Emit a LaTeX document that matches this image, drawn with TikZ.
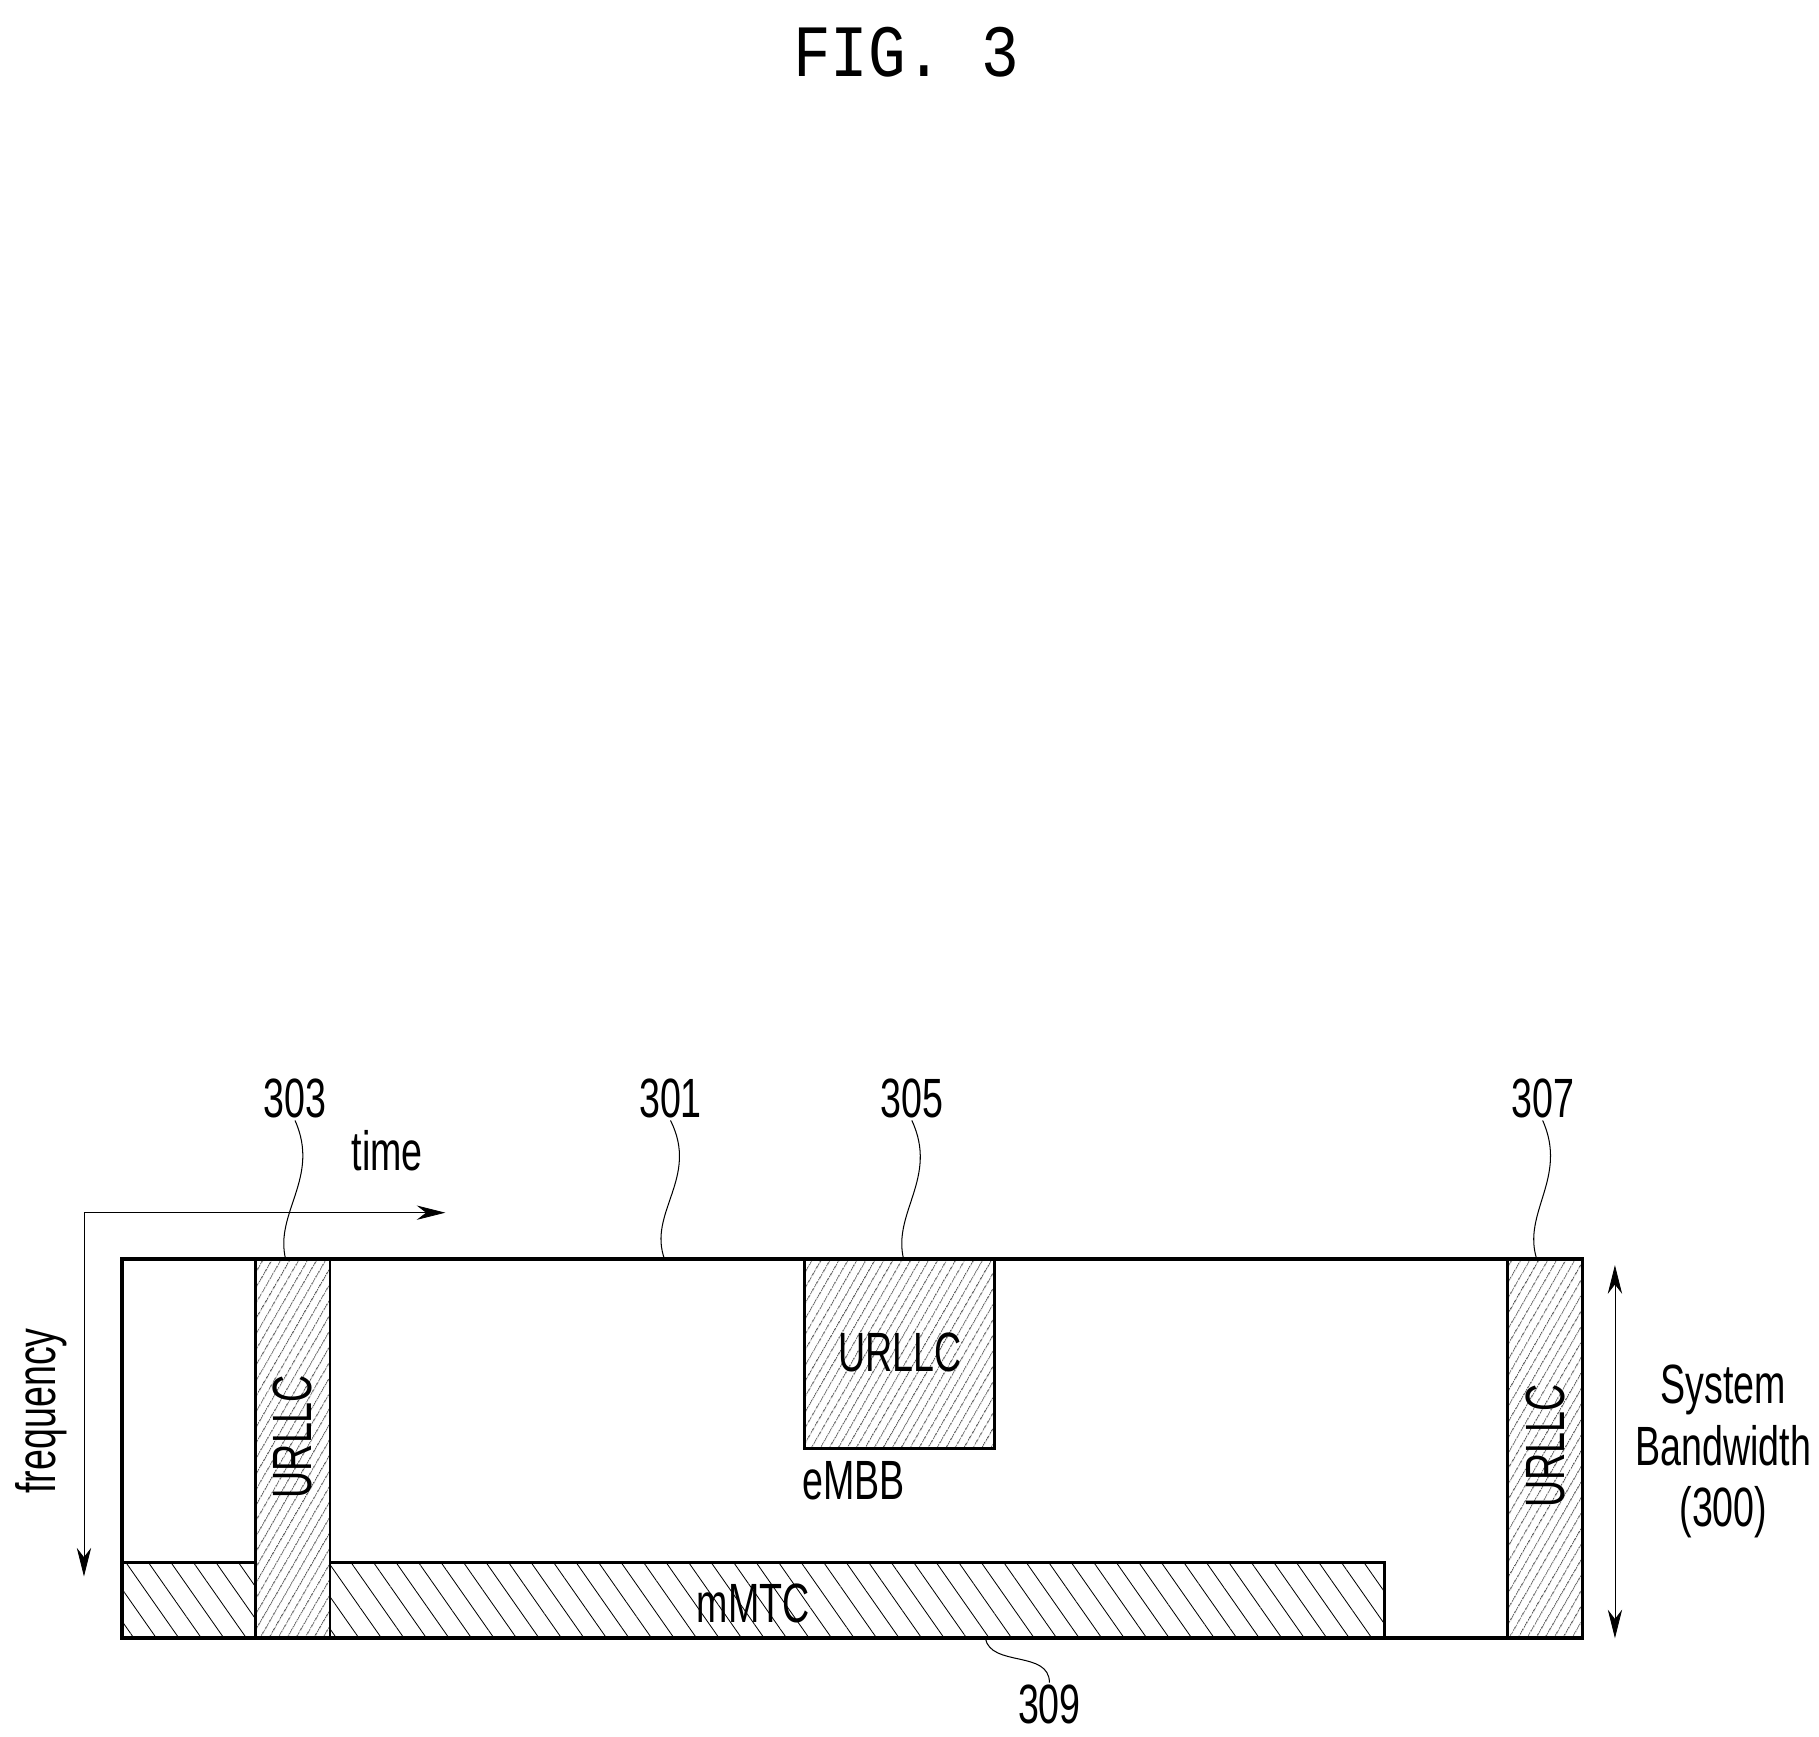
\documentclass[tikz,border=0pt]{standalone}
\usepackage{fontspec}
\setmainfont{Liberation Sans}
\newfontfamily\monofont{Liberation Mono}
\usetikzlibrary{patterns.meta,arrows.meta}
\newcommand{\nar}[1]{\scalebox{0.68}[1]{#1}}
\begin{document}
\begin{tikzpicture}
        [x=0.02cm,y=-0.02cm,
         lbl/.style={inner sep=1pt,font=\fontsize{27}{32}\selectfont},
         fine/.style={draw,line width=1.4pt,preaction={fill=white},pattern={Lines[angle=60,distance=4pt,line width=0.4pt]}},
         wide/.style={draw,line width=1.4pt,pattern={Lines[angle=-55,distance=9pt,line width=0.4pt]}},
         wave/.style={line width=0.5pt}]

        \useasboundingbox (0,0) rectangle (1560,1489);
        \node[font=\monofont\fontsize{36}{40}\selectfont] (title) at (777,45) {\scalebox{0.85}[1]{FIG. 3}};

        % resource grid
        \draw[line width=2pt] (105,1080) rectangle (1357,1405);
        \path[wide] (105,1340) rectangle (1187,1405);
        \path[fine] (219,1080) rectangle (283,1405);
        \path[fine] (690,1080) rectangle (853,1242);
        \path[fine] (1293,1080) rectangle (1357,1405);
        \draw[line width=2pt] (105,1080) -- (1357,1080);
        \draw[line width=2pt] (105,1405) -- (1357,1405);

        \node[lbl] (u1) at (251,1232) {\rotatebox{90}{\nar{URLLC}}};
        \node[lbl] (u2) at (772,1160) {\nar{URLLC}};
        \node[lbl] (u3) at (1325,1240) {\rotatebox{90}{\nar{URLLC}}};
        \node[lbl] (mmtc) at (646,1375) {\nar{mMTC}};
        \node[lbl] (embb) at (732,1270) {\nar{eMBB}};

        % axes
        \coordinate (o) at (72,1040);
        \coordinate (tend) at (382,1040);
        \coordinate (fend) at (72,1352);
        \draw[-{Stealth[length=14pt,width=7pt]}] (o) -- (tend);
        \draw[-{Stealth[length=14pt,width=7pt]}] (o) -- (fend);
        \node[lbl] (time) at (332,987) {\nar{time}};
        \node[lbl,rotate=90] (freq) at (35,1210) {\nar{frequency}};

        % bandwidth
        \coordinate (bwt) at (1385,1085);
        \coordinate (bwb) at (1385,1405);
        \draw[{Stealth[length=14pt,width=7pt]}-{Stealth[length=14pt,width=7pt]}] (bwt) -- (bwb);
        \node[lbl,align=center] (bw) at (1478,1245) {\nar{System}\\[-2pt]\nar{Bandwidth}\\[-2pt]\nar{(300)}};

        % reference numerals
        \node[lbl] (n303) at (253,942) {\nar{303}};
        \node[lbl] (n301) at (575,942) {\nar{301}};
        \node[lbl] (n305) at (782,942) {\nar{305}};
        \node[lbl] (n307) at (1323,942) {\nar{307}};
        \node[lbl] (n309) at (900,1462) {\nar{309}};
        \coordinate (p303) at (245,1080);
        \coordinate (p301) at (570,1080);
        \coordinate (p305) at (775,1080);
        \coordinate (p307) at (1318,1080);
        \coordinate (p309) at (845,1405);
        \draw[wave] (n303.south) .. controls (275,1010) and (235,1040) .. (p303);
        \draw[wave] (n301.south) .. controls (600,1010) and (555,1040) .. (p301);
        \draw[wave] (n305.south) .. controls (805,1010) and (765,1040) .. (p305);
        \draw[wave] (n307.south) .. controls (1345,1010) and (1305,1040) .. (p307);
        \draw[wave] (p309) .. controls (850,1430) and (900,1415) .. (n309.north);
      \end{tikzpicture}
\end{document}
